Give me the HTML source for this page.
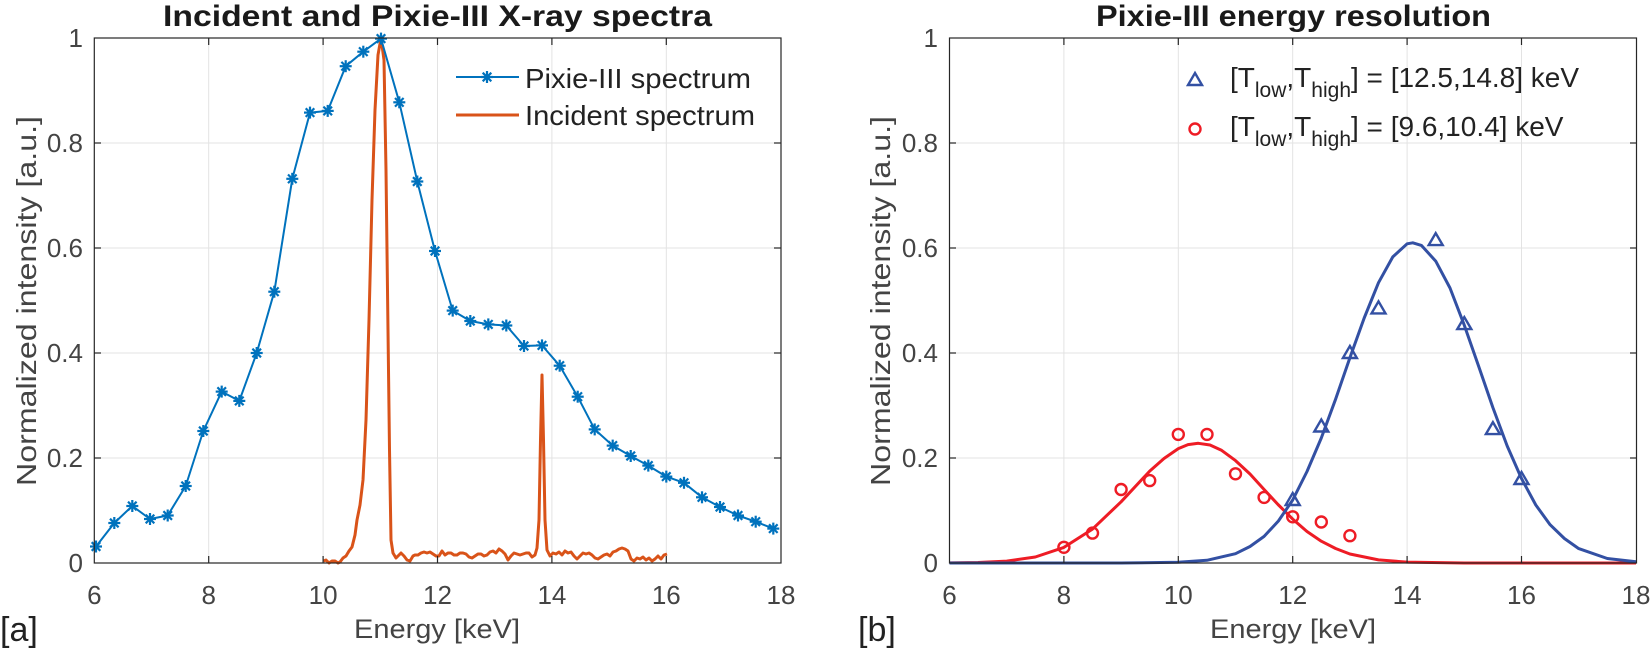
<!DOCTYPE html>
<html><head><meta charset="utf-8"><style>
html,body{margin:0;padding:0;background:#fff;}
svg{display:block;}
text{font-family:"Liberation Sans",Arial,sans-serif;}
</style></head><body>
<svg width="1652" height="648" viewBox="0 0 1652 648" xmlns="http://www.w3.org/2000/svg">
<defs>
<g id="ast" stroke="#0072BD" stroke-width="2.2" fill="none">
<line x1="-6" y1="0" x2="6" y2="0"/><line x1="0" y1="-6" x2="0" y2="6"/>
<line x1="-4.3" y1="-4.3" x2="4.3" y2="4.3"/><line x1="-4.3" y1="4.3" x2="4.3" y2="-4.3"/>
</g>
<path id="tri" d="M0,-7 L7,5 L-7,5 Z" fill="none" stroke="#3350A3" stroke-width="2.4"/>
<circle id="cir" r="5.5" fill="none" stroke="#EE1C25" stroke-width="2.4"/>
</defs>
<rect width="1652" height="648" fill="#fff"/>

<!-- LEFT PANEL grid -->
<g stroke="#e3e3e3" stroke-width="1">
<line x1="208.7" y1="38" x2="208.7" y2="563"/><line x1="323.1" y1="38" x2="323.1" y2="563"/>
<line x1="437.5" y1="38" x2="437.5" y2="563"/><line x1="551.9" y1="38" x2="551.9" y2="563"/>
<line x1="666.3" y1="38" x2="666.3" y2="563"/>
<line x1="94.3" y1="143" x2="781" y2="143"/><line x1="94.3" y1="248" x2="781" y2="248"/>
<line x1="94.3" y1="353" x2="781" y2="353"/><line x1="94.3" y1="458" x2="781" y2="458"/>
</g>
<polyline fill="none" stroke="#D95319" stroke-width="3" stroke-linejoin="round" points="323.5,561 326,560 329,563 332,561 335,561 338,563 340,562 343,558 346,556 349,551 352,547 355,535 357,520 360,505 363,480 366,420 369,320 372,200 375,110 378,55 381,38 384,60 386,170 388,330 389.5,450 391,540 393,553 396,558 398,556 401,553 404,556 407,560 410,561 413,556 415,555 418,555 421,553 424,552 427,553 430,552 433,554 436,556 439,556 442,551 445,555 448,553 451,553 454,555 457,555 460,553 463,553 466,554 469,557 472,558 475,556 478,554 481,554 484,556 487,555 490,552 493,551 496,553 499,549 502,551 505,554 508,560 511,556 514,553 517,554 520,555 523,554 526,553 529,553 532,557 535,555 537,548 539,520 540.5,440 542,375 543.5,440 545,520 547,550 550,556 553,553 556,554 559,552 562,555 565,551 568,553 571,552 574,556 577,559 580,556 583,553 586,554 589,553 592,555 595,558 598,559 601,557 604,555 607,554 610,556 613,552 616,551 619,549 622,548 625,549 628,551 631,559 634,561 637,558 640,559 643,557 646,560 649,558 652,561 655,559 658,556 661,559 664,555 667,554"/>
<polyline fill="none" stroke="#0072BD" stroke-width="2" stroke-linejoin="round" points="96,546.5 114.3,523 132.3,506 150,519 167.7,515.5 185.7,486 203.3,431 221.7,391.6 239.3,400.9 256.7,353 274.3,291.7 292.3,178.8 310,112.6 327.7,110.9 345.7,66.2 363.3,51.7 381,38.6 399.3,102.3 417.3,181.5 435,251 452.7,310.6 470.3,321 488.3,324.4 506.3,325.5 524,346 542,345.4 559.7,365.7 577.7,396.7 594.7,429.4 612.7,445.6 630.7,456 648.3,465.6 666.3,476.6 684,482.8 702,497.3 720,507 738,515.5 755.7,521.7 773.3,528.6"/>
<g>
<use href="#ast" x="96" y="546.5"/><use href="#ast" x="114.3" y="523"/><use href="#ast" x="132.3" y="506"/><use href="#ast" x="150" y="519"/><use href="#ast" x="167.7" y="515.5"/><use href="#ast" x="185.7" y="486"/><use href="#ast" x="203.3" y="431"/><use href="#ast" x="221.7" y="391.6"/><use href="#ast" x="239.3" y="400.9"/><use href="#ast" x="256.7" y="353"/><use href="#ast" x="274.3" y="291.7"/><use href="#ast" x="292.3" y="178.8"/><use href="#ast" x="310" y="112.6"/><use href="#ast" x="327.7" y="110.9"/><use href="#ast" x="345.7" y="66.2"/><use href="#ast" x="363.3" y="51.7"/><use href="#ast" x="381" y="38.6"/><use href="#ast" x="399.3" y="102.3"/><use href="#ast" x="417.3" y="181.5"/><use href="#ast" x="435" y="251"/><use href="#ast" x="452.7" y="310.6"/><use href="#ast" x="470.3" y="321"/><use href="#ast" x="488.3" y="324.4"/><use href="#ast" x="506.3" y="325.5"/><use href="#ast" x="524" y="346"/><use href="#ast" x="542" y="345.4"/><use href="#ast" x="559.7" y="365.7"/><use href="#ast" x="577.7" y="396.7"/><use href="#ast" x="594.7" y="429.4"/><use href="#ast" x="612.7" y="445.6"/><use href="#ast" x="630.7" y="456"/><use href="#ast" x="648.3" y="465.6"/><use href="#ast" x="666.3" y="476.6"/><use href="#ast" x="684" y="482.8"/><use href="#ast" x="702" y="497.3"/><use href="#ast" x="720" y="507"/><use href="#ast" x="738" y="515.5"/><use href="#ast" x="755.7" y="521.7"/><use href="#ast" x="773.3" y="528.6"/>
</g>
<rect x="94.3" y="38" width="686.7" height="525" fill="none" stroke="#262626" stroke-width="1.2"/>
<g stroke="#262626" stroke-width="1.2">
<line x1="208.7" y1="563" x2="208.7" y2="556"/><line x1="323.1" y1="563" x2="323.1" y2="556"/><line x1="437.5" y1="563" x2="437.5" y2="556"/><line x1="551.9" y1="563" x2="551.9" y2="556"/><line x1="666.3" y1="563" x2="666.3" y2="556"/>
<line x1="208.7" y1="38" x2="208.7" y2="45"/><line x1="323.1" y1="38" x2="323.1" y2="45"/><line x1="437.5" y1="38" x2="437.5" y2="45"/><line x1="551.9" y1="38" x2="551.9" y2="45"/><line x1="666.3" y1="38" x2="666.3" y2="45"/>
<line x1="94.3" y1="143" x2="101" y2="143"/><line x1="94.3" y1="248" x2="101" y2="248"/><line x1="94.3" y1="353" x2="101" y2="353"/><line x1="94.3" y1="458" x2="101" y2="458"/>
<line x1="781" y1="143" x2="774" y2="143"/><line x1="781" y1="248" x2="774" y2="248"/><line x1="781" y1="353" x2="774" y2="353"/><line x1="781" y1="458" x2="774" y2="458"/>
</g>
<g font-size="26" fill="#444" text-anchor="middle">
<text x="94.3" y="604">6</text><text x="208.7" y="604">8</text><text x="323.1" y="604">10</text><text x="437.5" y="604">12</text><text x="551.9" y="604">14</text><text x="666.3" y="604">16</text><text x="781" y="604">18</text>
</g>
<g font-size="26" fill="#444" text-anchor="end">
<text x="83" y="47">1</text><text x="83" y="152">0.8</text><text x="83" y="257">0.6</text><text x="83" y="362">0.4</text><text x="83" y="467">0.2</text><text x="83" y="572">0</text>
</g>
<text x="354" y="638" font-size="27" fill="#444" textLength="166" lengthAdjust="spacingAndGlyphs">Energy [keV]</text>
<text transform="translate(36,486) rotate(-90)" font-size="28" fill="#444" textLength="370" lengthAdjust="spacingAndGlyphs">Normalized intensity [a.u.]</text>
<text x="163" y="26" font-size="30" font-weight="bold" fill="#1a1a1a" textLength="549" lengthAdjust="spacingAndGlyphs">Incident and Pixie-III X-ray spectra</text>
<text x="0" y="641" font-family="Liberation Serif,serif" font-size="34" fill="#222">[a]</text>
<line x1="456" y1="77" x2="519" y2="77" stroke="#0072BD" stroke-width="2"/>
<use href="#ast" x="487" y="77"/>
<line x1="456" y1="115" x2="519" y2="115" stroke="#D95319" stroke-width="3"/>
<text x="525" y="88" font-size="28" fill="#222" textLength="226" lengthAdjust="spacingAndGlyphs">Pixie-III spectrum</text>
<text x="525" y="125" font-size="28" fill="#222" textLength="230" lengthAdjust="spacingAndGlyphs">Incident spectrum</text>

<!-- RIGHT PANEL grid -->
<g stroke="#e3e3e3" stroke-width="1">
<line x1="1063.9" y1="38" x2="1063.9" y2="563"/><line x1="1178.3" y1="38" x2="1178.3" y2="563"/>
<line x1="1292.7" y1="38" x2="1292.7" y2="563"/><line x1="1407.1" y1="38" x2="1407.1" y2="563"/>
<line x1="1521.5" y1="38" x2="1521.5" y2="563"/>
<line x1="949.5" y1="143" x2="1636.5" y2="143"/><line x1="949.5" y1="248" x2="1636.5" y2="248"/>
<line x1="949.5" y1="353" x2="1636.5" y2="353"/><line x1="949.5" y1="458" x2="1636.5" y2="458"/>
</g>
<polyline fill="none" stroke="#EE1C25" stroke-width="3" stroke-linejoin="round" points="949.5,562.9 978,562.5 1006.7,561.1 1035.3,557 1063.9,547.4 1092.5,529.1 1121.1,501.8 1149.7,471.1 1164,458.5 1178.3,448.6 1188,444.6 1198.3,443.3 1210,445 1221.2,450.1 1235.5,460.6 1250,474 1264.1,489.5 1278,504.5 1292.7,519.1 1307,531.5 1321.3,541.2 1335.6,548.5 1349.9,554 1378.5,559.9 1407.1,562.1 1464.3,563 1636,563"/>
<polyline fill="none" stroke="#3350A3" stroke-width="3" stroke-linejoin="round" points="949.5,563 1121.1,563 1178.3,562.3 1206.9,560.3 1235.5,553.7 1250,546.5 1264.1,536.4 1278.4,521 1292.7,500 1307,471.5 1321.3,438 1335.6,399.2 1349.9,357.7 1364.2,318 1378.5,282.7 1392.8,256.9 1407.1,243.8 1412.8,242.8 1421.4,245.4 1435.7,261.1 1450,288 1464.3,325.2 1478.6,366.1 1492.9,407.6 1507.2,446 1521.5,478.5 1535.8,505 1550.1,524.7 1564.4,538.5 1578.7,548.6 1607.3,558.5 1636,561.8"/>
<g>
<use href="#tri" x="1292.7" y="500"/><use href="#tri" x="1321.3" y="426.5"/><use href="#tri" x="1349.9" y="353"/><use href="#tri" x="1378.5" y="308.4"/><use href="#tri" x="1435.7" y="240.1"/><use href="#tri" x="1464.3" y="324.1"/><use href="#tri" x="1492.9" y="429.1"/><use href="#tri" x="1521.5" y="479"/>
<use href="#cir" x="1063.9" y="547.3"/><use href="#cir" x="1092.5" y="533.1"/><use href="#cir" x="1121.1" y="489.5"/><use href="#cir" x="1149.7" y="480.6"/><use href="#cir" x="1178.3" y="434.4"/><use href="#cir" x="1207" y="434.4"/><use href="#cir" x="1235.5" y="473.8"/><use href="#cir" x="1264.1" y="497.4"/><use href="#cir" x="1292.7" y="516.8"/><use href="#cir" x="1321.3" y="522"/><use href="#cir" x="1349.9" y="535.7"/>
</g>
<rect x="949.5" y="38" width="687" height="525" fill="none" stroke="#262626" stroke-width="1.2"/>
<g stroke="#262626" stroke-width="1.2">
<line x1="1063.9" y1="563" x2="1063.9" y2="556"/><line x1="1178.3" y1="563" x2="1178.3" y2="556"/><line x1="1292.7" y1="563" x2="1292.7" y2="556"/><line x1="1407.1" y1="563" x2="1407.1" y2="556"/><line x1="1521.5" y1="563" x2="1521.5" y2="556"/>
<line x1="1063.9" y1="38" x2="1063.9" y2="45"/><line x1="1178.3" y1="38" x2="1178.3" y2="45"/><line x1="1292.7" y1="38" x2="1292.7" y2="45"/><line x1="1407.1" y1="38" x2="1407.1" y2="45"/><line x1="1521.5" y1="38" x2="1521.5" y2="45"/>
<line x1="949.5" y1="143" x2="956" y2="143"/><line x1="949.5" y1="248" x2="956" y2="248"/><line x1="949.5" y1="353" x2="956" y2="353"/><line x1="949.5" y1="458" x2="956" y2="458"/>
<line x1="1636.5" y1="143" x2="1630" y2="143"/><line x1="1636.5" y1="248" x2="1630" y2="248"/><line x1="1636.5" y1="353" x2="1630" y2="353"/><line x1="1636.5" y1="458" x2="1630" y2="458"/>
</g>
<g font-size="26" fill="#444" text-anchor="middle">
<text x="949.5" y="604">6</text><text x="1063.9" y="604">8</text><text x="1178.3" y="604">10</text><text x="1292.7" y="604">12</text><text x="1407.1" y="604">14</text><text x="1521.5" y="604">16</text><text x="1636" y="604">18</text>
</g>
<g font-size="26" fill="#444" text-anchor="end">
<text x="938" y="47">1</text><text x="938" y="152">0.8</text><text x="938" y="257">0.6</text><text x="938" y="362">0.4</text><text x="938" y="467">0.2</text><text x="938" y="572">0</text>
</g>
<text x="1210" y="638" font-size="27" fill="#444" textLength="166" lengthAdjust="spacingAndGlyphs">Energy [keV]</text>
<text transform="translate(890,486) rotate(-90)" font-size="28" fill="#444" textLength="370" lengthAdjust="spacingAndGlyphs">Normalized intensity [a.u.]</text>
<text x="1096" y="26" font-size="30" font-weight="bold" fill="#1a1a1a" textLength="395" lengthAdjust="spacingAndGlyphs">Pixie-III energy resolution</text>
<text x="858" y="641" font-family="Liberation Serif,serif" font-size="34" fill="#222">[b]</text>
<use href="#tri" x="1195" y="80"/>
<use href="#cir" x="1195" y="129"/>
<text x="1230" y="87" font-size="28" fill="#222">[T<tspan font-size="21" dy="10">low</tspan><tspan dy="-10">,T</tspan><tspan font-size="21" dy="10">high</tspan><tspan dy="-10">] = [12.5,14.8] keV</tspan></text>
<text x="1230" y="136" font-size="28" fill="#222">[T<tspan font-size="21" dy="10">low</tspan><tspan dy="-10">,T</tspan><tspan font-size="21" dy="10">high</tspan><tspan dy="-10">] = [9.6,10.4] keV</tspan></text>
</svg>
</body></html>
